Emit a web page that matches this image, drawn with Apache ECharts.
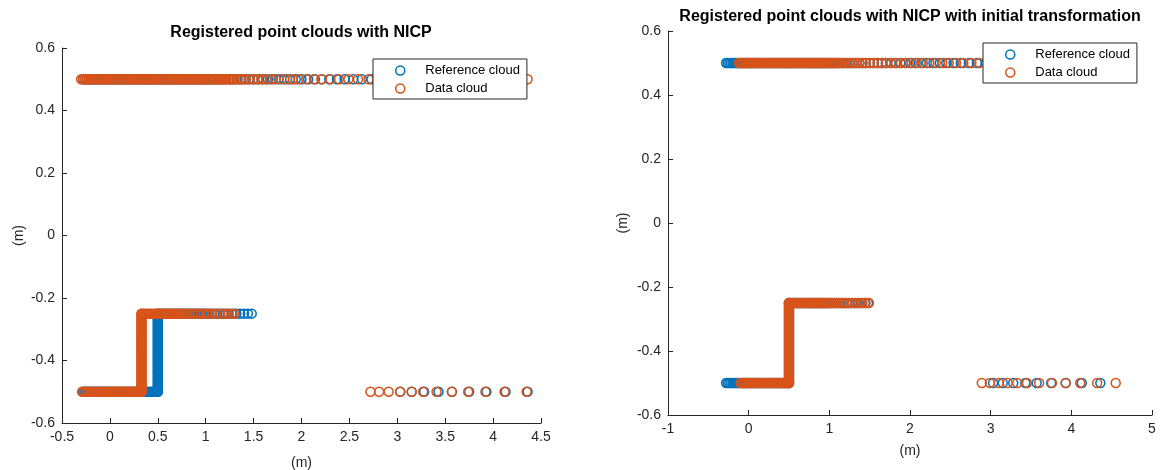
<!DOCTYPE html>
<html>
<head>
<meta charset="utf-8">
<script src="https://cdn.jsdelivr.net/npm/echarts@6/dist/echarts.min.js"></script>
<style>html,body{margin:0;padding:0;background:#fff;}#c{width:1160px;height:470px;}</style>
</head>
<body>
<div id="c"></div>
<script>
// ---------- DATA ----------
const titles = ['Registered point clouds with NICP', 'Registered point clouds with NICP with initial transformation'];
const seriesNames = ['Reference cloud', 'Data cloud'];
const axisName = '(m)';

// Reference cloud (same in both plots)
const refTopY = 0.5;
const refTopX = [-0.28,-0.26,-0.24,-0.22,-0.2,-0.18,-0.16,-0.14,-0.12,-0.1,-0.08,-0.06,-0.04,-0.02,0,0.02,0.04,0.06,0.08,0.1,0.12,0.14,0.16,0.18,0.2,0.22,0.24,0.26,0.28,0.3,0.32,0.34,0.36,0.38,0.4,0.42,0.44,0.46,0.48,0.5,0.52,0.54,0.56,0.58,0.6,0.62,0.64,0.66,0.68,0.7,0.72,0.74,0.76,0.78,0.8,0.82,0.84,0.86,0.88,0.9,0.92,0.94,0.96,0.98,1.0,1.03,1.06,1.09,1.12,1.15,1.18,1.21,1.25,1.29,1.33,1.37,1.41,1.45,1.5,1.55,1.6,1.65,1.7,1.76,1.82,1.88,1.94,2.0,2.07,2.14,2.21,2.29,2.37,2.45,2.54,2.63,2.73,2.83,2.94,3.05,3.17,3.3,3.44,3.59,3.75,3.92,4.1,4.3];
const refLowY = -0.5;
const refLowX = [-0.28,-0.26,-0.24,-0.22,-0.2,-0.18,-0.16,-0.14,-0.12,-0.1,-0.08,-0.06,-0.04,-0.02,0,0.02,0.04,0.06,0.08,0.1,0.12,0.14,0.16,0.18,0.2,0.22,0.24,0.26,0.28,0.3,0.32,0.34,0.36,0.38,0.4,0.42,0.44,0.46,0.48,0.5];
const refStepX = 0.5;
const refStepY = [-0.5,-0.495,-0.49,-0.485,-0.48,-0.475,-0.47,-0.465,-0.46,-0.455,-0.45,-0.445,-0.44,-0.435,-0.43,-0.425,-0.42,-0.415,-0.41,-0.405,-0.4,-0.395,-0.39,-0.385,-0.38,-0.375,-0.37,-0.365,-0.36,-0.355,-0.35,-0.345,-0.34,-0.335,-0.33,-0.325,-0.32,-0.315,-0.31,-0.305,-0.3,-0.295,-0.29,-0.285,-0.28,-0.275,-0.27,-0.265,-0.26,-0.255,-0.25];
const refMidY = -0.25;
const refMidX = [0.5,0.52,0.54,0.56,0.58,0.6,0.62,0.64,0.66,0.68,0.7,0.72,0.74,0.76,0.78,0.8,0.82,0.84,0.86,0.88,0.9,0.92,0.94,0.96,0.98,1.0,1.03,1.06,1.09,1.12,1.15,1.18,1.21,1.24,1.28,1.32,1.36,1.4,1.44,1.48];
const refFarY = -0.5;
const refFarX = [3.03,3.15,3.28,3.43,3.57,3.75,3.93,4.13,4.36];

// Data cloud, left plot (registered with NICP)
const datLTopX = [-0.3,-0.28,-0.26,-0.24,-0.22,-0.2,-0.18,-0.16,-0.14,-0.12,-0.1,-0.08,-0.06,-0.04,-0.02,0,0.02,0.04,0.06,0.08,0.1,0.12,0.14,0.16,0.18,0.2,0.22,0.24,0.26,0.28,0.3,0.32,0.34,0.36,0.38,0.4,0.42,0.44,0.46,0.48,0.5,0.52,0.54,0.56,0.58,0.6,0.62,0.64,0.66,0.68,0.7,0.72,0.74,0.76,0.78,0.8,0.82,0.84,0.86,0.88,0.9,0.92,0.94,0.96,0.98,1.0,1.02,1.04,1.06,1.08,1.1,1.12,1.14,1.16,1.18,1.2,1.22,1.24,1.26,1.28,1.3,1.33,1.36,1.39,1.42,1.46,1.5,1.54,1.58,1.63,1.68,1.73,1.79,1.85,1.91,1.97,2.05,2.13,2.21,2.3,2.39,2.49,2.59,2.7,2.81,2.93,3.05,3.18,3.32,3.47,3.63,3.8,3.98,4.17,4.36];
const datLLowX = [-0.29,-0.27,-0.25,-0.23,-0.21,-0.19,-0.17,-0.15,-0.13,-0.11,-0.09,-0.07,-0.05,-0.03,-0.01,0.01,0.03,0.05,0.07,0.09,0.11,0.13,0.15,0.17,0.19,0.21,0.23,0.25,0.27,0.29,0.31,0.33];
const datLStepX = 0.33;
const datLStepY = [-0.5,-0.495,-0.49,-0.485,-0.48,-0.475,-0.47,-0.465,-0.46,-0.455,-0.45,-0.445,-0.44,-0.435,-0.43,-0.425,-0.42,-0.415,-0.41,-0.405,-0.4,-0.395,-0.39,-0.385,-0.38,-0.375,-0.37,-0.365,-0.36,-0.355,-0.35,-0.345,-0.34,-0.335,-0.33,-0.325,-0.32,-0.315,-0.31,-0.305,-0.3,-0.295,-0.29,-0.285,-0.28,-0.275,-0.27,-0.265,-0.26,-0.255,-0.25];
const datLMidX = [0.33,0.35,0.37,0.39,0.41,0.43,0.45,0.47,0.49,0.51,0.53,0.55,0.57,0.59,0.61,0.63,0.65,0.67,0.69,0.71,0.73,0.75,0.77,0.79,0.81,0.83,0.86,0.89,0.92,0.95,0.98,1.01,1.04,1.07,1.11,1.15,1.19,1.23,1.27,1.3];
const datLFarX = [2.72,2.81,2.91,3.03,3.15,3.27,3.41,3.57,3.74,3.92,4.12,4.35];

// Data cloud, right plot (with initial transformation)
const datRTopX = [-0.12,-0.1,-0.08,-0.06,-0.04,-0.02,0,0.02,0.04,0.06,0.08,0.1,0.12,0.14,0.16,0.18,0.2,0.22,0.24,0.26,0.28,0.3,0.32,0.34,0.36,0.38,0.4,0.42,0.44,0.46,0.48,0.5,0.52,0.54,0.56,0.58,0.6,0.62,0.64,0.66,0.68,0.7,0.72,0.74,0.76,0.78,0.8,0.82,0.84,0.86,0.88,0.9,0.92,0.94,0.96,0.98,1.0,1.02,1.04,1.06,1.08,1.1,1.13,1.16,1.19,1.22,1.25,1.29,1.33,1.37,1.41,1.45,1.5,1.55,1.6,1.65,1.71,1.77,1.83,1.89,1.95,2.02,2.09,2.16,2.24,2.32,2.4,2.48,2.57,2.66,2.76,2.86,2.97,3.08,3.2,3.33,3.47,3.62,3.78,3.95,4.13,4.32,4.53];
const datRLowX = [-0.1,-0.08,-0.06,-0.04,-0.02,0,0.02,0.04,0.06,0.08,0.1,0.12,0.14,0.16,0.18,0.2,0.22,0.24,0.26,0.28,0.3,0.32,0.34,0.36,0.38,0.4,0.42,0.44,0.46,0.48,0.5];
const datRStepX = 0.5;
const datRStepY = [-0.5,-0.495,-0.49,-0.485,-0.48,-0.475,-0.47,-0.465,-0.46,-0.455,-0.45,-0.445,-0.44,-0.435,-0.43,-0.425,-0.42,-0.415,-0.41,-0.405,-0.4,-0.395,-0.39,-0.385,-0.38,-0.375,-0.37,-0.365,-0.36,-0.355,-0.35,-0.345,-0.34,-0.335,-0.33,-0.325,-0.32,-0.315,-0.31,-0.305,-0.3,-0.295,-0.29,-0.285,-0.28,-0.275,-0.27,-0.265,-0.26,-0.255,-0.25];
const datRMidX = [0.5,0.52,0.54,0.56,0.58,0.6,0.62,0.64,0.66,0.68,0.7,0.72,0.74,0.76,0.78,0.8,0.82,0.84,0.86,0.88,0.9,0.92,0.94,0.96,0.98,1.0,1.03,1.06,1.09,1.12,1.15,1.18,1.21,1.25,1.29,1.33,1.37,1.41,1.45,1.49];
const datRFarX = [2.89,2.99,3.1,3.21,3.33,3.45,3.6,3.76,3.93,4.11,4.32,4.55];

const xTicksLeft = {min: -0.5, max: 4.5, interval: 0.5};
const xTicksRight = {min: -1, max: 5, interval: 1};
const yTicks = {min: -0.6, max: 0.6, interval: 0.2};

// ---------- BUILD ----------
const hx = (xs, y) => xs.map(x => [x, y]);
const vy = (x, ys) => ys.map(y => [x, y]);

const refPts = [].concat(hx(refTopX, refTopY), hx(refLowX, refLowY), vy(refStepX, refStepY), hx(refMidX, refMidY), hx(refFarX, refFarY));
const datLPts = [].concat(hx(datLTopX, refTopY), hx(datLLowX, refLowY), vy(datLStepX, datLStepY), hx(datLMidX, refMidY), hx(datLFarX, refFarY));
const datRPts = [].concat(hx(datRTopX, refTopY), hx(datRLowX, refLowY), vy(datRStepX, datRStepY), hx(datRMidX, refMidY), hx(datRFarX, refFarY));

const BLUE = '#0072BD', ORANGE = '#D95319', AX = '#262626';
const FONT = 'Liberation Sans, Arial, Helvetica, sans-serif';
const MARK = 9, MARKW = 1.5;

function xAxis(gi, t, gap) {
  return {
    type: 'value', gridIndex: gi, min: t.min, max: t.max, interval: t.interval,
    name: axisName, nameLocation: 'middle', nameGap: gap,
    nameTextStyle: {color: AX, fontSize: 14, fontFamily: FONT},
    axisLine: {onZero: false, lineStyle: {color: AX, width: 1}},
    axisTick: {inside: true, length: 5, lineStyle: {color: AX}},
    axisLabel: {color: AX, fontSize: 14, fontFamily: FONT, margin: 7},
    splitLine: {show: false}
  };
}
function yAxis(gi, gap) {
  return {
    type: 'value', gridIndex: gi, min: yTicks.min, max: yTicks.max, interval: yTicks.interval,
    name: axisName, nameLocation: 'middle', nameGap: gap, nameRotate: 90,
    nameTextStyle: {color: AX, fontSize: 14, fontFamily: FONT},
    axisLine: {onZero: false, lineStyle: {color: AX, width: 1}},
    axisTick: {inside: true, length: 5, lineStyle: {color: AX}},
    axisLabel: {color: AX, fontSize: 14, fontFamily: FONT, margin: 7},
    splitLine: {show: false}
  };
}
function scat(name, gi, data, color) {
  return {
    type: 'scatter', name: name, xAxisIndex: gi, yAxisIndex: gi, data: data,
    symbol: 'circle', symbolSize: MARK,
    itemStyle: {color: 'rgba(0,0,0,0)', borderColor: color, borderWidth: MARKW, opacity: 1},
    emphasis: {disabled: true}, silent: true
  };
}
function legend(left, top) {
  return {
    orient: 'vertical', left: left, top: top,
    data: [
      {name: seriesNames[0], icon: 'circle', itemStyle: {color: 'rgba(0,0,0,0)', borderColor: BLUE, borderWidth: MARKW}},
      {name: seriesNames[1], icon: 'circle', itemStyle: {color: 'rgba(0,0,0,0)', borderColor: ORANGE, borderWidth: MARKW}}
    ],
    itemWidth: 40, itemHeight: 9, itemGap: 5,
    padding: [5, 7, 4, 22],
    backgroundColor: '#fff', borderColor: AX, borderWidth: 1, borderRadius: 0,
    textStyle: {color: '#000', fontSize: 13, fontFamily: FONT},
    selectedMode: false
  };
}

const chart = echarts.init(document.getElementById('c'), null, {renderer: 'canvas'});
chart.setOption({
  animation: false,
  backgroundColor: '#fff',
  title: [
    {text: titles[0], left: 301, top: 25, textAlign: 'center', padding: 0,
     textStyle: {fontSize: 16, fontWeight: 'bold', color: '#000', fontFamily: FONT}},
    {text: titles[1], left: 910, top: 9, textAlign: 'center', padding: 0,
     textStyle: {fontSize: 16, fontWeight: 'bold', color: '#000', fontFamily: FONT}}
  ],
  legend: [legend(373, 59), legend(983, 43)],
  grid: [
    {left: 62, top: 48, width: 479, height: 375, outerBoundsMode: 'none', containLabel: false},
    {left: 668, top: 31, width: 484, height: 384, outerBoundsMode: 'none', containLabel: false}
  ],
  xAxis: [xAxis(0, xTicksLeft, 33), xAxis(1, xTicksRight, 29)],
  yAxis: [yAxis(0, 36), yAxis(1, 38)],
  series: [
    scat(seriesNames[0], 0, refPts, BLUE),
    scat(seriesNames[1], 0, datLPts, ORANGE),
    scat(seriesNames[0], 1, refPts, BLUE),
    scat(seriesNames[1], 1, datRPts, ORANGE)
  ]
});
</script>
</body>
</html>
